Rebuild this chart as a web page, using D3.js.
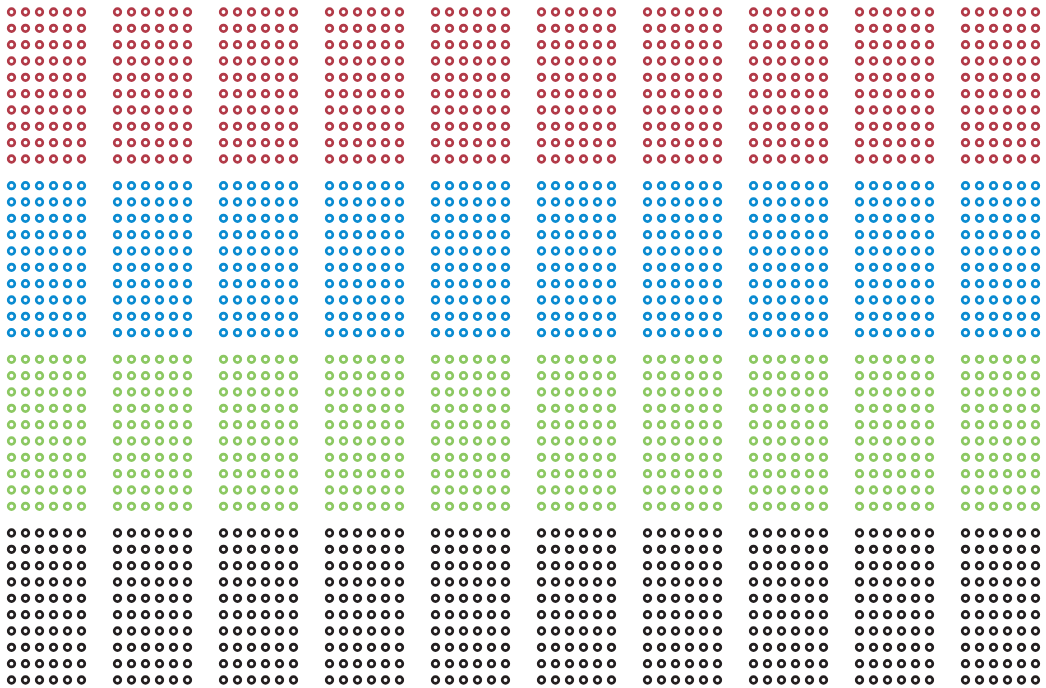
<!DOCTYPE html>
<html>
<head>
<meta charset="utf-8">
<script src="https://cdn.jsdelivr.net/npm/d3@7/dist/d3.min.js"></script>
<style>
html,body{margin:0;padding:0;background:#fff;}
svg{display:block;}
</style>
</head>
<body>
<svg id="chart" width="1046" height="688"></svg>
<script>
// Data
const groups = ["A", "B", "C", "D"];
const groupColors = ["#b23a48", "#0a8bd1", "#8cc862", "#231f20"];
const blocks = ["1", "2", "3", "4", "5", "6", "7", "8", "9", "10"];
const unitsPerRow = 6;
const rowsPerBlock = 10;
const counts = [
  [60, 60, 60, 60, 60, 60, 60, 60, 60, 60],
  [60, 60, 60, 60, 60, 60, 60, 60, 60, 60],
  [60, 60, 60, 60, 60, 60, 60, 60, 60, 60],
  [60, 60, 60, 60, 60, 60, 60, 60, 60, 60]
];

const svg = d3.select("#chart");

const xBlock = d3.scalePoint().domain(blocks).range([11.5, 965.5]);
const xUnit = d3.scalePoint().domain(d3.range(unitsPerRow)).range([0, 70]);
const yGroup = d3.scalePoint().domain(groups).range([12, 533]);
const yUnit = d3.scalePoint().domain(d3.range(rowsPerBlock)).range([0, 147]);
const color = d3.scaleOrdinal().domain(groups).range(groupColors);

const units = [];
groups.forEach((g, gi) => {
  blocks.forEach((b, bi) => {
    const n = counts[gi][bi];
    for (let k = 0; k < n; k++) {
      units.push({
        group: g,
        block: b,
        col: k % unitsPerRow,
        row: Math.floor(k / unitsPerRow)
      });
    }
  });
});

svg.selectAll("circle")
  .data(units)
  .join("circle")
  .attr("cx", d => xBlock(d.block) + xUnit(d.col))
  .attr("cy", d => yGroup(d.group) + yUnit(d.row))
  .attr("r", 3.3)
  .attr("fill", "none")
  .attr("stroke", d => color(d.group))
  .attr("stroke-width", 2.7);
</script>
</body>
</html>
